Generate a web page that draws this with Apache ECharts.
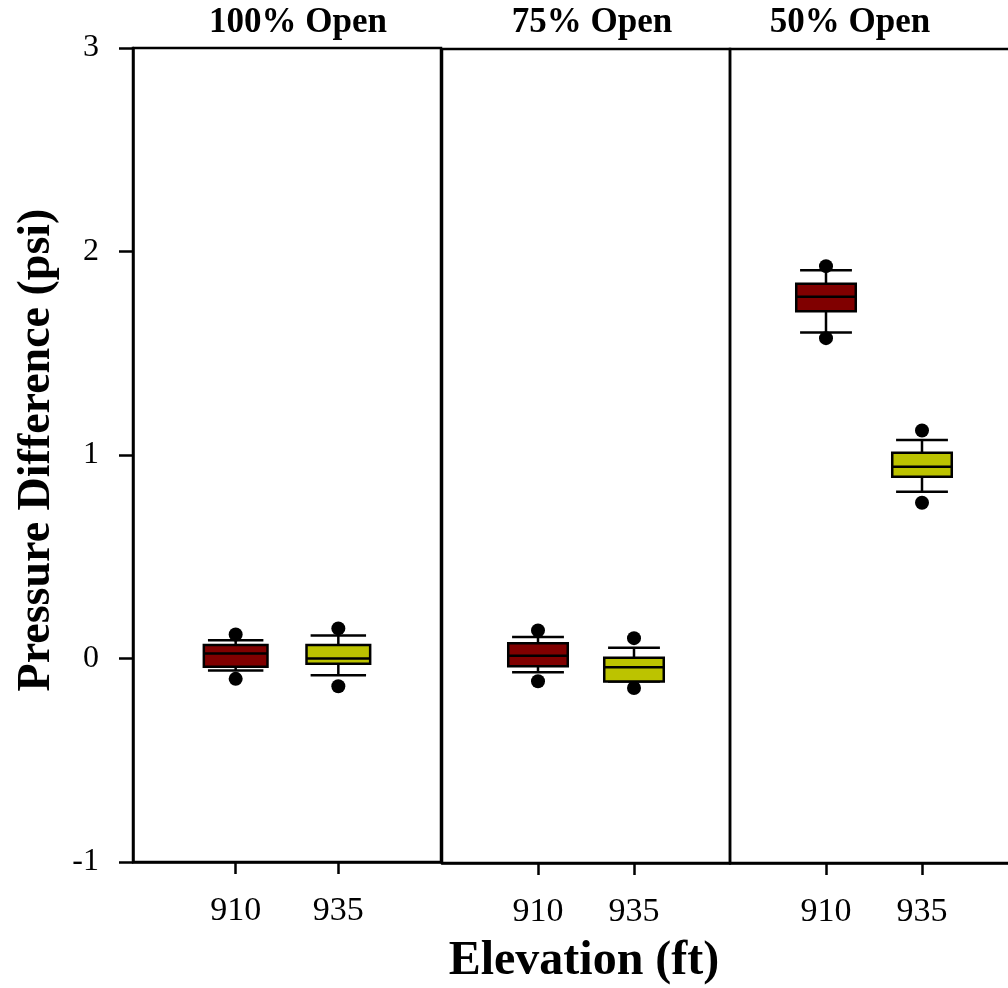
<!DOCTYPE html>
<html>
<head>
<meta charset="utf-8">
<script src="https://cdn.jsdelivr.net/npm/echarts@6/dist/echarts.min.js"></script>
<style>
html,body{margin:0;padding:0;background:#fff;overflow:hidden;}
#chart{width:1040px;height:988px;}
</style>
</head>
<body>
<div id="chart"></div>
<script>
// ---- data ----
const panels = ['100% Open', '75% Open', '50% Open'];
const elevations = ['910', '935'];
// [min, Q1, median, Q3, max] per panel
const box910 = [
  [-0.059, -0.041, 0.025, 0.066, 0.090],
  [-0.063, -0.033, 0.018, 0.080, 0.110],
  [1.607, 1.711, 1.782, 1.846, 1.913]
];
const box935 = [
  [-0.082, -0.026, 0.000, 0.066, 0.113],
  [-0.108, -0.108, -0.038, 0.008, 0.058],
  [0.824, 0.898, 0.947, 1.016, 1.079]
];
// outlier points per panel
const out910 = [[0.118, -0.100], [0.143, -0.107], [1.933, 1.579]];
const out935 = [[0.148, -0.136], [0.105, -0.140], [1.125, 0.770]];
const yMin = -1, yMax = 3, yStep = 1;

// ---- chart ----
const FONT = "'Liberation Serif', 'Times New Roman', serif";
const colors = ['#800000', '#bcc300'];
const xCats = [''].concat(elevations, ['']);
const grids = [
  {left: 133, top: 48, width: 308, height: 814},
  {left: 442, top: 49, width: 288, height: 814},
  {left: 730, top: 49, width: 288, height: 814}
].map(g => Object.assign(g, {show: true, borderColor: '#000', borderWidth: 2.5, backgroundColor: 'transparent'}));

const xAxes = panels.map((p, i) => ({
  type: 'category', gridIndex: i, data: xCats, boundaryGap: false,
  axisLine: {show: true, onZero: false, lineStyle: {color: '#000', width: 2.5}},
  axisTick: {show: true, length: 12, inside: false, interval: (idx) => idx === 1 || idx === 2, lineStyle: {color: '#000', width: 2.5}},
  axisLabel: {interval: 0, color: '#000', fontFamily: FONT, fontSize: 34, margin: 32},
  splitLine: {show: false}
}));
const yAxes = panels.map((p, i) => ({
  type: 'value', gridIndex: i, min: yMin, max: yMax, interval: yStep,
  show: i === 0,
  axisLine: {show: true, onZero: false, lineStyle: {color: '#000', width: 2.5}},
  axisTick: {show: true, length: 14, inside: false, lineStyle: {color: '#000', width: 2.5}},
  axisLabel: {color: '#000', fontFamily: FONT, fontSize: 32, margin: 34},
  splitLine: {show: false}
}));

function renderBox(params, api) {
  const x = api.value(0);
  const c = (v) => api.coord([x, v]);
  const pMin = c(api.value(1)), q1 = c(api.value(2)), med = c(api.value(3)), q3 = c(api.value(4)), pMax = c(api.value(5));
  const band = api.size([1, 0])[0];
  const bw = band * 0.62, cw = band * 0.54;
  const cx = q1[0];
  const ls = {stroke: '#000', lineWidth: 2.5};
  const color = api.visual('color');
  return {
    type: 'group',
    children: [
      {type: 'line', shape: {x1: cx, y1: q3[1], x2: cx, y2: pMax[1]}, style: ls},
      {type: 'line', shape: {x1: cx, y1: q1[1], x2: cx, y2: pMin[1]}, style: ls},
      {type: 'line', shape: {x1: cx - cw / 2, y1: pMax[1], x2: cx + cw / 2, y2: pMax[1]}, style: ls},
      {type: 'line', shape: {x1: cx - cw / 2, y1: pMin[1], x2: cx + cw / 2, y2: pMin[1]}, style: ls},
      {type: 'rect', shape: {x: cx - bw / 2, y: q3[1], width: bw, height: q1[1] - q3[1]}, style: {fill: color, stroke: '#000', lineWidth: 2.5}},
      {type: 'line', shape: {x1: cx - bw / 2, y1: med[1], x2: cx + bw / 2, y2: med[1]}, style: ls}
    ]
  };
}

const series = [];
panels.forEach((p, i) => {
  [box910, box935].forEach((box, k) => {
    series.push({
      type: 'custom', xAxisIndex: i, yAxisIndex: i,
      itemStyle: {color: colors[k]},
      encode: {x: 0, y: [1, 2, 3, 4, 5]},
      data: [[k + 1].concat(box[i])],
      renderItem: renderBox, z: 3
    });
  });
  const pts = [];
  out910[i].forEach(v => pts.push([1, v]));
  out935[i].forEach(v => pts.push([2, v]));
  series.push({
    type: 'scatter', xAxisIndex: i, yAxisIndex: i, data: pts,
    symbol: 'circle', symbolSize: 14, itemStyle: {color: '#000', opacity: 1}, z: 4, silent: true
  });
});

const titleX = [298, 592, 850];
const graphic = panels.map((p, i) => ({
  type: 'text', x: titleX[i], y: 23,
  style: {text: p, fill: '#000', font: "bold 35px " + FONT, textAlign: 'center', textVerticalAlign: 'middle'}
}));
graphic.push({
  type: 'text', x: 584, y: 962,
  style: {text: 'Elevation (ft)', fill: '#000', font: "bold 48px " + FONT, textAlign: 'center', textVerticalAlign: 'middle'}
});
graphic.push({
  type: 'text', x: 37, y: 450, rotation: Math.PI / 2,
  style: {text: 'Pressure Difference (psi)', fill: '#000', font: "bold 46px " + FONT, textAlign: 'center', textVerticalAlign: 'middle'}
});

const chart = echarts.init(document.getElementById('chart'), null, {renderer: 'canvas'});
chart.setOption({
  animation: false,
  backgroundColor: '#fff',
  grid: grids,
  xAxis: xAxes,
  yAxis: yAxes,
  series: series,
  graphic: graphic
});
</script>
</body>
</html>
